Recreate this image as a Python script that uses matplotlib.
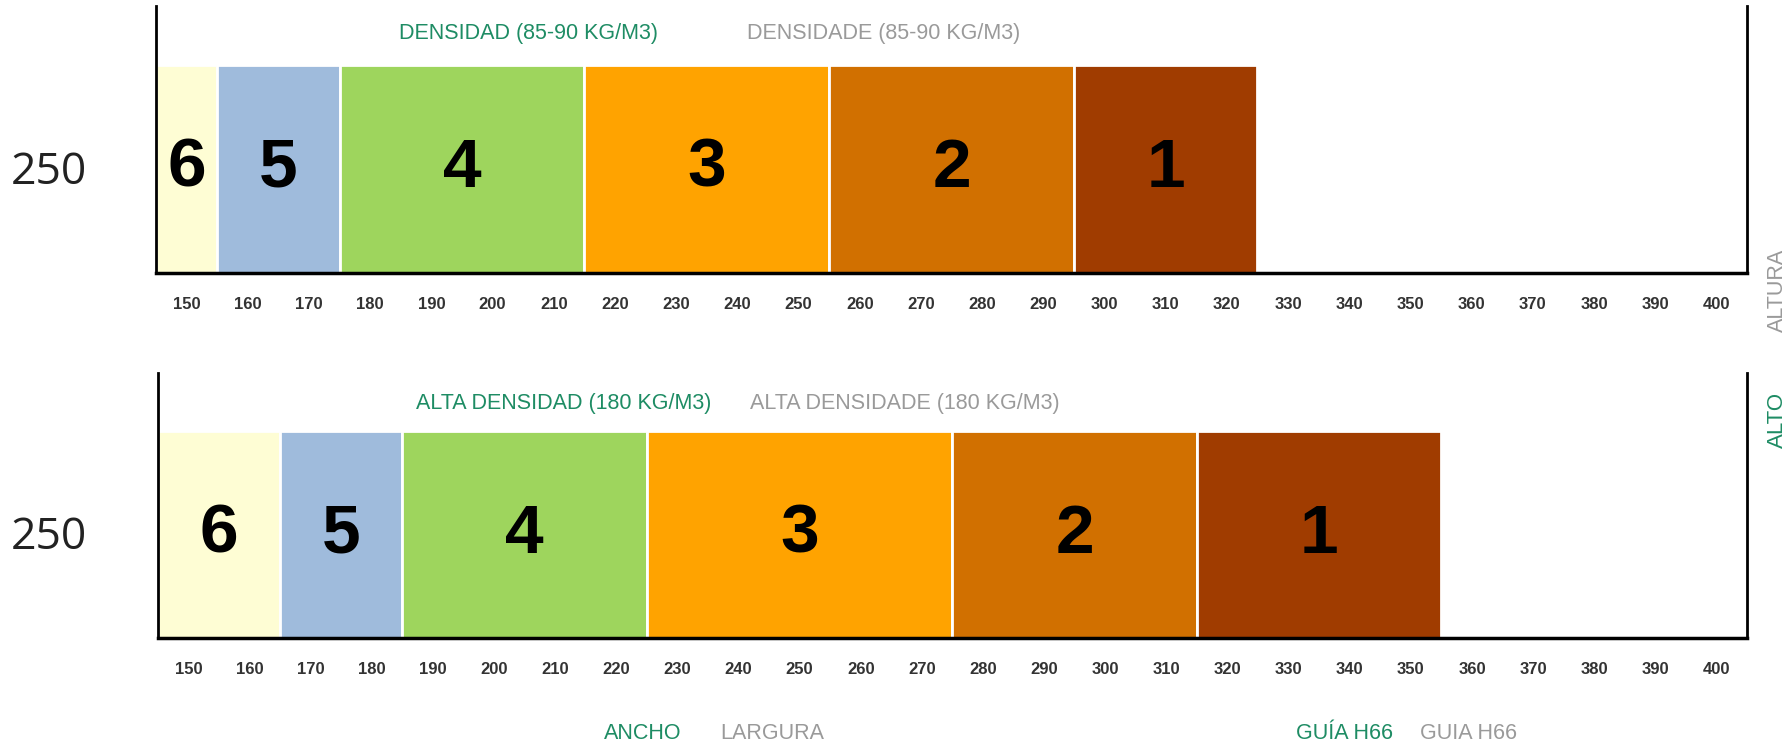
import matplotlib.pyplot as plt
import numpy as np

# datos de las guias (ancho en cm)
numeros = ['6', '5', '4', '3', '2', '1']
colores = ['#FEFDD4', '#9FBBDC', '#9ED55D', '#FFA300', '#D17000', '#A03C00']

sup_inicio = [145, 155, 175, 215, 255, 295]
sup_ancho = [10, 20, 40, 40, 40, 30]

inf_inicio = [145, 165, 185, 225, 275, 315]
inf_ancho = [20, 20, 40, 50, 40, 40]

ticks = list(range(150, 401, 10))
altura = '250'

verde = '#1E8C64'
gris = '#9A9A9A'

fig = plt.figure(figsize=(17.89, 7.46), dpi=100)


def panel(rect, inicio, ancho):
    ax = fig.add_axes(rect)
    ax.bar(inicio, [0.78] * len(inicio), width=ancho, align='edge',
           color=colores, edgecolor='white', linewidth=2)
    for x, w, n in zip(inicio, ancho, numeros):
        ax.text(x + w / 2, 0.39, n, ha='center', va='center',
                fontsize=50, fontweight='bold', family='Liberation Sans', color='black')
    ax.set_xlim(145, 405)
    ax.set_ylim(0, 1)
    ax.set_yticks([])
    ax.set_xticks(ticks)
    ax.set_xticklabels([str(t) for t in ticks], fontsize=12, fontweight='bold',
                       family='Liberation Sans', color='#333333')
    ax.tick_params(axis='x', length=0, pad=17)
    ax.spines['top'].set_visible(False)
    for s in ['left', 'right']:
        ax.spines[s].set_linewidth(2)
    ax.spines['bottom'].set_linewidth(2.5)
    return ax


ax1 = panel([0.0872, 0.634, 0.8893, 0.358], sup_inicio, sup_ancho)
ax2 = panel([0.0883, 0.1448, 0.8882, 0.355], inf_inicio, inf_ancho)

# textos
fig.text(0.0274, 0.768, altura, ha='center', va='center', fontsize=32,
         family='Open Sans', color='#222222')
fig.text(0.0274, 0.279, altura, ha='center', va='center', fontsize=32,
         family='Open Sans', color='#222222')

fig.text(0.2230, 0.955, 'DENSIDAD (85-90 KG/M3)', ha='left', va='center',
         fontsize=15.5, family='Liberation Sans', color=verde)
fig.text(0.4176, 0.955, 'DENSIDADE (85-90 KG/M3)', ha='left', va='center',
         fontsize=15.5, family='Liberation Sans', color=gris)
fig.text(0.2325, 0.459, 'ALTA DENSIDAD (180 KG/M3)', ha='left', va='center',
         fontsize=15.5, family='Liberation Sans', color=verde)
fig.text(0.4192, 0.459, 'ALTA DENSIDADE (180 KG/M3)', ha='left', va='center',
         fontsize=15.5, family='Liberation Sans', color=gris)

fig.text(0.3376, 0.017, 'ANCHO', ha='left', va='center',
         fontsize=15.5, family='Liberation Sans', color=verde)
fig.text(0.4025, 0.017, 'LARGURA', ha='left', va='center',
         fontsize=15.5, family='Liberation Sans', color=gris)
fig.text(0.7244, 0.017, 'GUÍA H66', ha='left', va='center',
         fontsize=15.5, family='Liberation Sans', color=verde)
fig.text(0.7937, 0.017, 'GUIA H66', ha='left', va='center',
         fontsize=15.5, family='Liberation Sans', color=gris)

fig.text(0.9933, 0.611, 'ALTURA', ha='center', va='center', rotation=90,
         fontsize=15.5, family='Liberation Sans', color=gris)
fig.text(0.9933, 0.437, 'ALTO', ha='center', va='center', rotation=90,
         fontsize=16, family='Liberation Sans', color=verde)

fig.savefig('out.png', dpi=100, facecolor='white')
